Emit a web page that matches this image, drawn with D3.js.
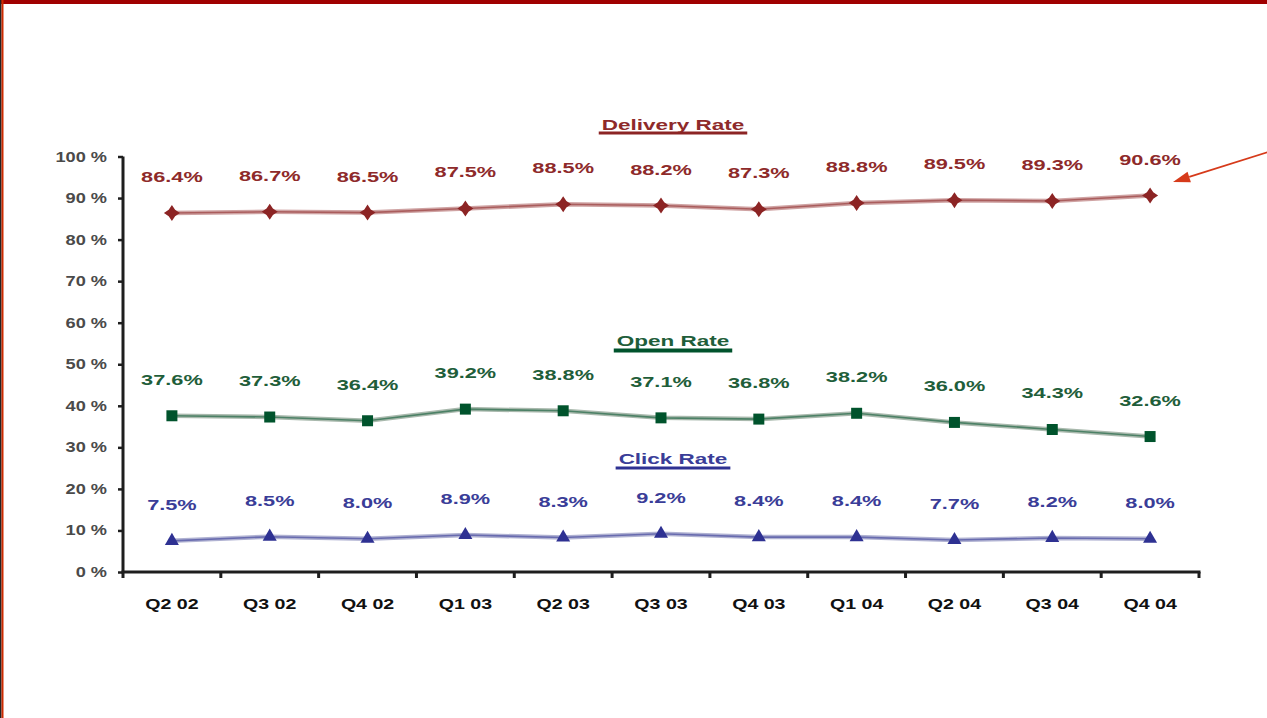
<!DOCTYPE html>
<html>
<head>
<meta charset="utf-8">
<script src="https://cdn.jsdelivr.net/npm/d3@7"></script>
<style>
  html, body { margin: 0; padding: 0; background: #fff; }
  svg { display: block; }
  text { font-family: "Liberation Sans", Arial, sans-serif; }
</style>
</head>
<body>
<svg id="chart" width="1267" height="718"></svg>
<script>
// Quarterly e-mail campaign rates (percent)
const quarters = ["Q2 02", "Q3 02", "Q4 02", "Q1 03", "Q2 03", "Q3 03", "Q4 03", "Q1 04", "Q2 04", "Q3 04", "Q4 04"];
const deliveryRate = [86.4, 86.7, 86.5, 87.5, 88.5, 88.2, 87.3, 88.8, 89.5, 89.3, 90.6];
const openRate = [37.6, 37.3, 36.4, 39.2, 38.8, 37.1, 36.8, 38.2, 36.0, 34.3, 32.6];
const clickRate = [7.5, 8.5, 8.0, 8.9, 8.3, 9.2, 8.4, 8.4, 7.7, 8.2, 8.0];
const yTickValues = [0, 10, 20, 30, 40, 50, 60, 70, 80, 90, 100];
const seriesNames = ["Delivery Rate", "Open Rate", "Click Rate"];

const svg = d3.select("#chart");
const W = 1267, H = 718;

// Frame: dark red band on top, thin red rule on the left
svg.append("rect").attr("x", 0).attr("y", 0).attr("width", W).attr("height", 4).attr("fill", "#a00000");
svg.append("rect").attr("x", 0).attr("y", 0).attr("width", 1.5).attr("height", H).attr("fill", "#222");
svg.append("rect").attr("x", 1.5).attr("y", 0).attr("width", 2).attr("height", H).attr("fill", "#cc2a00");

const x = d3.scaleBand().domain(quarters).range([123, 1199]).padding(0);
const y = d3.scaleLinear().domain([0, 100]).range([572, 156.5]);

const SX = 1.4; // horizontal stretch of the lettering

function stretchedText(parent, px, py, str, opts) {
  return parent.append("text")
    .attr("transform", `translate(${px},${py}) scale(${opts.sx || SX},1)`)
    .attr("text-anchor", opts.anchor || "middle")
    .attr("font-size", opts.size || 15)
    .attr("font-weight", opts.weight || "bold")
    .attr("fill", opts.fill || "#000")
    .text(str);
}

// Y axis
const yAxis = svg.append("g").attr("transform", "translate(123,0)")
  .call(d3.axisLeft(y).tickValues(yTickValues).tickSize(5).tickFormat(""));
yAxis.select(".domain").attr("stroke", "#1e1e1e").attr("stroke-width", 3)
  .attr("d", `M0,${y(100)}V${y(0)}`);
yAxis.selectAll(".tick line").attr("stroke", "#1e1e1e").attr("stroke-width", 2.5);

const yLab = svg.append("g");
yTickValues.forEach(v => {
  stretchedText(yLab, 107, y(v) + 5, v + " %", { anchor: "end", size: 14, weight: "bold", fill: "#4a4a4a", sx: 1.3 });
});

// X axis with ticks on the band boundaries
const xAxisG = svg.append("g").attr("transform", `translate(0,${y(0)})`);
xAxisG.append("line").attr("x1", 121.5).attr("x2", 1200.5).attr("y1", 0).attr("y2", 0)
  .attr("stroke", "#1e1e1e").attr("stroke-width", 3);
const bounds = quarters.map(q => x(q)).concat([x(quarters[quarters.length - 1]) + x.bandwidth()]);
xAxisG.selectAll("line.tk").data(bounds).join("line").attr("class", "tk")
  .attr("x1", d => d).attr("x2", d => d).attr("y1", 0).attr("y2", 6)
  .attr("stroke", "#1e1e1e").attr("stroke-width", 3);
const xLab = svg.append("g");
quarters.forEach(q => {
  stretchedText(xLab, x(q) + x.bandwidth() / 2, 609, q, { size: 14, fill: "#111", sx: 1.4 });
});

const cx = i => x(quarters[i]) + x.bandwidth() / 2;

// Marker shapes
const starPath = (() => {
  const o = 8, n = 3.2;
  return `M0,${-o}L${n},${-n}L${o},0L${n},${n}L0,${o}L${-n},${n}L${-o},0L${-n},${-n}Z`;
})();
const squarePath = d3.symbol(d3.symbolSquare, 121)();
const trianglePath = d3.symbol(d3.symbolTriangle, 85)();

const series = [
  { name: seriesNames[0], values: deliveryRate, dark: "#8c2424", light: "#cfa3a3", label: "#8e2a2a",
    marker: starPath, titleY: 130, lineY: 131.5, lineH: 3 },
  { name: seriesNames[1], values: openRate, dark: "#00532c", light: "#a9b9ad", label: "#1f5e3a",
    marker: squarePath, titleY: 346, lineY: 348.5, lineH: 4 },
  { name: seriesNames[2], values: clickRate, dark: "#2e3192", light: "#b0b2d2", label: "#3a3d98",
    marker: trianglePath, titleY: 464, lineY: 466.5, lineH: 3 }
];

series.forEach(s => {
  const g = svg.append("g");
  const line = d3.line().x((d, i) => cx(i)).y(d => y(d));
  g.append("path").attr("d", line(s.values)).attr("fill", "none")
    .attr("stroke", s.light).attr("stroke-width", 4.5);
  g.append("path").attr("d", line(s.values)).attr("fill", "none")
    .attr("stroke", s.dark).attr("stroke-width", 1.6).attr("stroke-opacity", 0.55);

  g.selectAll("path.mk").data(s.values).join("path").attr("class", "mk")
    .attr("d", s.marker)
    .attr("transform", (d, i) => `translate(${cx(i)},${y(d)})`)
    .attr("fill", s.dark);

  s.values.forEach((v, i) => {
    stretchedText(g, cx(i), y(v) - 31, v.toFixed(1) + "%", { size: 15, fill: s.label, sx: 1.45 });
  });

  // Series title with a heavy underline
  const t = stretchedText(g, 673, s.titleY, s.name, { size: 15, fill: s.label, sx: 1.5 });
  const bb = t.node().getBBox();
  const w = bb.width * 1.5 + 6;
  g.append("rect").attr("x", 673 - w / 2).attr("y", s.lineY).attr("width", w).attr("height", s.lineH)
    .attr("fill", s.dark);
});

// Pointer arrow toward the latest delivery figure
const arrow = svg.append("g");
const tip = [1173, 182], tail = [1268, 152];
const ang = Math.atan2(tail[1] - tip[1], tail[0] - tip[0]);
const L = 17, Wd = 5.5;
const base = [tip[0] + L * Math.cos(ang), tip[1] + L * Math.sin(ang)];
arrow.append("line").attr("x1", tail[0]).attr("y1", tail[1]).attr("x2", base[0]).attr("y2", base[1])
  .attr("stroke", "#d63a1a").attr("stroke-width", 1.6);
arrow.append("path")
  .attr("d", `M${tip[0]},${tip[1]}L${base[0] - Wd * Math.sin(ang)},${base[1] + Wd * Math.cos(ang)}L${base[0] + Wd * Math.sin(ang)},${base[1] - Wd * Math.cos(ang)}Z`)
  .attr("fill", "#d63a1a");
</script>
</body>
</html>
